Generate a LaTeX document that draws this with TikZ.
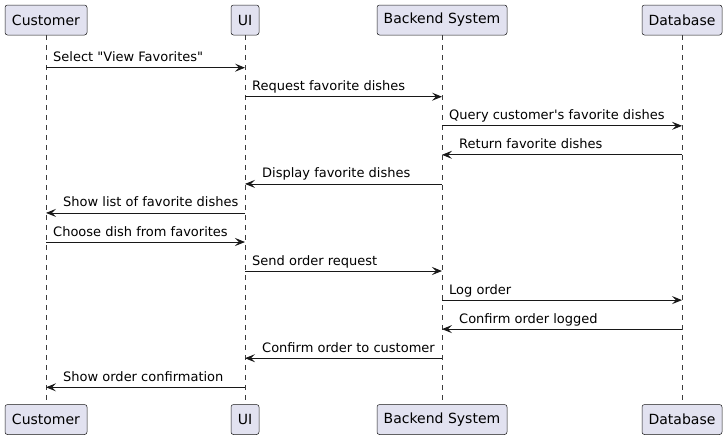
\documentclass[tikz,border=0pt]{standalone}
\usepackage{fontspec}
\setmainfont{DejaVu Sans}[Ligatures=TeXOff]
\usetikzlibrary{arrows.meta}
\definecolor{pbox}{HTML}{E2E2F0}
\definecolor{pline}{HTML}{181818}
\begin{document}
\begin{tikzpicture}[x=1pt,y=-1pt,
  part/.style={draw=pline, fill=pbox, line width=0.5pt, rounded corners=2.5pt,
    minimum height=30pt, inner sep=0pt, font=\fontsize{14}{16}\selectfont},
  life/.style={draw=pline!85, line width=0.5pt, dash pattern=on 5pt off 5pt},
  msg/.style={draw=pline, line width=0.8pt, -{Stealth[length=10pt,width=8pt,inset=4pt]}},
  lbl/.style={inner sep=0pt, anchor=base west, font=\fontsize{13}{15}\selectfont}]
\useasboundingbox (0,0) rectangle (726,440);
% participants
\node[part, minimum width=82pt] (cT) at (46,20) {Customer};
\node[part, minimum width=28pt] (uT) at (245,20) {UI};
\node[part, minimum width=130pt] (bT) at (442,20) {Backend System};
\node[part, minimum width=80pt] (dT) at (682,20) {Database};
\node[part, minimum width=82pt] (cB) at (46,419.5) {Customer};
\node[part, minimum width=28pt] (uB) at (245,419.5) {UI};
\node[part, minimum width=130pt] (bB) at (442,419.5) {Backend System};
\node[part, minimum width=80pt] (dB) at (682,419.5) {Database};
% lifelines
\draw[life] (cT) -- (cB);
\draw[life] (uT) -- (uB);
\draw[life] (bT) -- (bB);
\draw[life] (dT) -- (dB);
% message rows
\coordinate (y1) at (0,67.7);
\coordinate (y2) at (0,96.7);
\coordinate (y3) at (0,125.8);
\coordinate (y4) at (0,154.8);
\coordinate (y5) at (0,183.9);
\coordinate (y6) at (0,212.9);
\coordinate (y7) at (0,242);
\coordinate (y8) at (0,271);
\coordinate (y9) at (0,300.1);
\coordinate (y10) at (0,329.1);
\coordinate (y11) at (0,358.2);
\coordinate (y12) at (0,387.3);
% messages
\draw[msg] (cT |- y1) -- (uT |- y1);
\path (cT |- y1) ++(7,-6) node[lbl] (l1) {Select "View Favorites"};
\draw[msg] (uT |- y2) -- (bT |- y2);
\path (uT |- y2) ++(7,-6) node[lbl] (l2) {Request favorite dishes};
\draw[msg] (bT |- y3) -- (dT |- y3);
\path (bT |- y3) ++(7,-6) node[lbl] (l3) {Query customer's favorite dishes};
\draw[msg] (dT |- y4) -- (bT |- y4);
\path (bT |- y4) ++(17,-6) node[lbl] (l4) {Return favorite dishes};
\draw[msg] (bT |- y5) -- (uT |- y5);
\path (uT |- y5) ++(17,-6) node[lbl] (l5) {Display favorite dishes};
\draw[msg] (uT |- y6) -- (cT |- y6);
\path (cT |- y6) ++(17,-6) node[lbl] (l6) {Show list of favorite dishes};
\draw[msg] (cT |- y7) -- (uT |- y7);
\path (cT |- y7) ++(7,-6) node[lbl] (l7) {Choose dish from favorites};
\draw[msg] (uT |- y8) -- (bT |- y8);
\path (uT |- y8) ++(7,-6) node[lbl] (l8) {Send order request};
\draw[msg] (bT |- y9) -- (dT |- y9);
\path (bT |- y9) ++(7,-6) node[lbl] (l9) {Log order};
\draw[msg] (dT |- y10) -- (bT |- y10);
\path (bT |- y10) ++(17,-6) node[lbl] (l10) {Confirm order logged};
\draw[msg] (bT |- y11) -- (uT |- y11);
\path (uT |- y11) ++(17,-6) node[lbl] (l11) {Confirm order to customer};
\draw[msg] (uT |- y12) -- (cT |- y12);
\path (cT |- y12) ++(17,-6) node[lbl] (l12) {Show order confirmation};
\end{tikzpicture}
\end{document}
